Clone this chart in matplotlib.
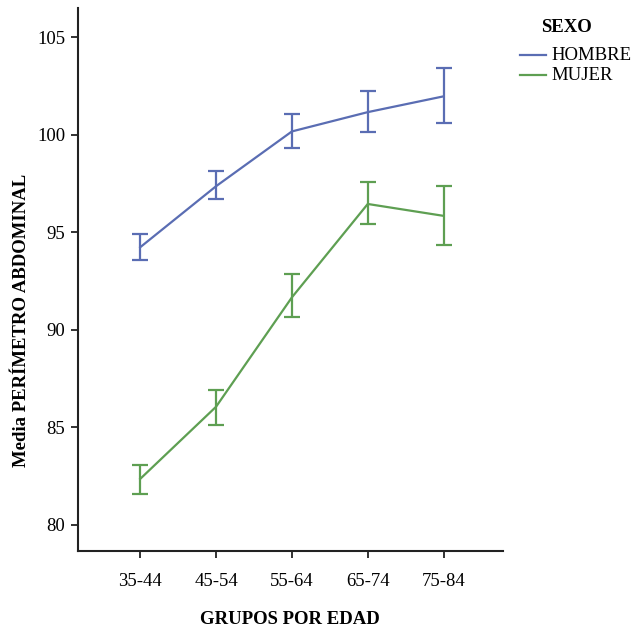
import matplotlib
matplotlib.use("Agg")
import matplotlib.pyplot as plt
import numpy as np
from matplotlib.lines import Line2D

plt.rcParams['font.family'] = ['Liberation Serif', 'DejaVu Serif']

groups = ["35-44", "45-54", "55-64", "65-74", "75-84"]

hombre_mean = [94.24, 97.37, 100.18, 101.17, 101.98]
hombre_low = [93.58, 96.69, 99.33, 100.15, 100.60]
hombre_high = [94.90, 98.15, 101.06, 102.27, 103.45]

mujer_mean = [82.36, 86.06, 91.67, 96.46, 95.85]
mujer_low = [81.59, 85.12, 90.67, 95.44, 94.36]
mujer_high = [83.06, 86.92, 92.86, 97.57, 97.37]

series_names = ["HOMBRE", "MUJER"]
legend_title = "SEXO"

blue = "#5a6db3"
green = "#5e9f52"

W, H = 634, 631
fig = plt.figure(figsize=(W / 100, H / 100), dpi=100)
ax = fig.add_axes([0.123, 0.127, 0.670, 0.860])

x = np.arange(len(groups))
for mean, lo, hi, col in [(hombre_mean, hombre_low, hombre_high, blue),
                          (mujer_mean, mujer_low, mujer_high, green)]:
    mean = np.array(mean)
    yerr = [mean - np.array(lo), np.array(hi) - mean]
    ax.errorbar(x, mean, yerr=yerr, color=col, lw=1.6, elinewidth=1.6,
                capsize=6, capthick=1.6)

ax.set_xlim(-0.82, 4.78)
ax.set_ylim(78.67, 106.5)
ax.set_xticks(x)
ax.set_xticklabels(groups)
ax.set_yticks([80, 85, 90, 95, 100, 105])
ax.tick_params(axis='both', labelsize=13.5, length=5, width=1.3, color='#222222')
ax.tick_params(axis='x', pad=11)
ax.tick_params(axis='y', pad=4)
for s in ['top', 'right']:
    ax.spines[s].set_visible(False)
for s in ['left', 'bottom']:
    ax.spines[s].set_linewidth(1.5)
    ax.spines[s].set_color('#222222')

ax.set_xlabel("GRUPOS POR EDAD", fontsize=13.5, fontweight='bold', labelpad=15)
ax.set_ylabel("Media PERÍMETRO ABDOMINAL", fontsize=13.5, fontweight='bold')
ax.yaxis.set_label_coords(-0.112, 0.425)

# legend drawn in figure pixel coordinates
def fx(px):
    return px / W

def fy(py):
    return 1 - py / H

fig.text(fx(566), fy(28), legend_title, fontsize=13.5, fontweight='bold',
         ha='center', va='center')
for i, (name, col) in enumerate(zip(series_names, [blue, green])):
    yy = 55 + 20 * i
    fig.add_artist(Line2D([fx(520), fx(546)], [fy(yy), fy(yy)], color=col, lw=1.6,
                          transform=fig.transFigure))
    fig.text(fx(551), fy(yy), name, fontsize=13.5, ha='left', va='center')

fig.savefig("out.png", dpi=100)
